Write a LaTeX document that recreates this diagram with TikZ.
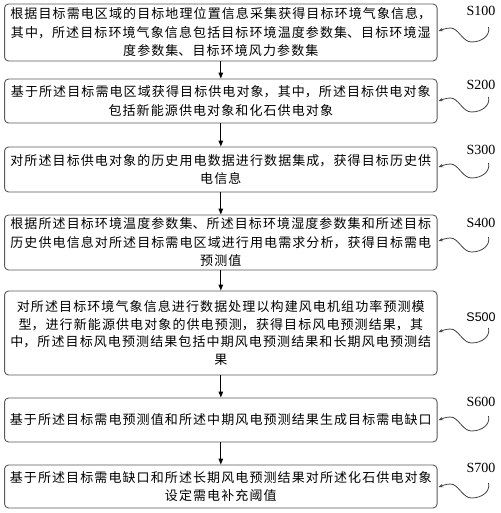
\documentclass[tikz,border=0pt]{standalone}
\usepackage{fontspec}
\setmainfont{Liberation Serif}
\newfontfamily\cjk{Noto Sans CJK SC}
\newfontfamily\lsans{Liberation Sans}
\usetikzlibrary{arrows.meta,calc}
\XeTeXlinebreaklocale "zh"
\XeTeXlinebreakskip=1.1pt
\begin{document}
\begin{tikzpicture}[x=1pt,y=1pt,
  stepbox/.style={draw=black!65, line width=0.9pt, rounded corners=4pt,
    minimum width=432.5pt, text width=432.5pt, inner xsep=0pt, inner ysep=0pt,
    align=center, font=\cjk\fontsize{13}{18.5}\selectfont},
  flow/.style={line width=1pt, black, -{Triangle[length=6pt,width=4.5pt]}},
  squig/.style={line width=0.8pt, black!75, -{Stealth[length=4.5pt,width=3.5pt]}},
  steplabel/.style={inner sep=0pt, font=\fontsize{14}{16}\selectfont},
]
\useasboundingbox (0,0) rectangle (500,-513);
\node[stepbox, minimum height=57pt] (b1) at (220.8,-32.5)
  {根据目标需电区域的目标地理位置信息采集获得目标环境气象信息，\\其中，所述目标环境气象信息包括目标环境温度参数集、目标环境湿\\度参数集、目标环境风力参数集};
\node[stepbox, minimum height=44pt] (b2) at (220.8,-101)
  {基于所述目标需电区域获得目标供电对象，其中，所述目标供电对象\\包括新能源供电对象和化石供电对象};
\node[stepbox, minimum height=45pt] (b3) at (220.8,-169.5)
  {对所述目标供电对象的历史用电数据进行数据集成，获得目标历史供\\电信息};
\node[stepbox, minimum height=55pt] (b4) at (220.8,-242.5)
  {根据所述目标环境温度参数集、所述目标环境湿度参数集和所述目标\\历史供电信息对所述目标需电区域进行用电需求分析，获得目标需电\\预测值};
\node[stepbox, minimum height=84pt, font=\cjk\fontsize{13}{17.5}\selectfont] (b5) at (220.8,-333)
  {对所述目标环境气象信息进行数据处理以构建风电机组功率预测模\\型，进行新能源供电对象的供电预测，获得目标风电预测结果，其\\中，所述目标风电预测结果包括中期风电预测结果和长期风电预测结\\果};
\node[stepbox, minimum height=44pt] (b6) at (220.8,-420)
  {基于所述目标需电预测值和所述中期风电预测结果生成目标需电缺口};
\node[stepbox, minimum height=43pt] (b7) at (220.8,-486.5)
  {基于所述目标需电缺口和所述长期风电预测结果对所述化石供电对象\\设定需电补充阈值};

\foreach \a/\b in {b1/b2,b2/b3,b3/b4,b4/b5,b5/b6,b6/b7}
  \draw[flow] (\a) -- (\b);

\node[steplabel] (l1) at (481,-11) {S100};
\node[steplabel] (l2) at (481,-85) {S200};
\node[steplabel] (l3) at (481,-150) {S300};
\node[steplabel] (l4) at (481,-223) {S400};
\node[steplabel, font=\lsans\fontsize{12.5}{14}\selectfont] (l5) at (481,-317) {S500};
\node[steplabel] (l6) at (481,-402) {S600};
\node[steplabel] (l7) at (481,-468) {S700};

\foreach \i/\dy in {1/1.5,2/0,3/2.5,4/1.5,5/1,6/0,7/-0.5}{
  \coordinate (t\i) at ($(b\i.east)+(1,\dy)$);
  \draw[squig] ($(t\i)+(50,4)$) .. controls ($(t\i)+(52,-4)$) and ($(t\i)+(44,-11)$) ..
    ($(t\i)+(33,-11)$) .. controls ($(t\i)+(24,-11)$) and ($(t\i)+(20,3)$) ..
    ($(t\i)+(12,3)$) .. controls ($(t\i)+(7,3)$) and ($(t\i)+(3,1)$) .. (t\i);
}
\end{tikzpicture}
\end{document}
